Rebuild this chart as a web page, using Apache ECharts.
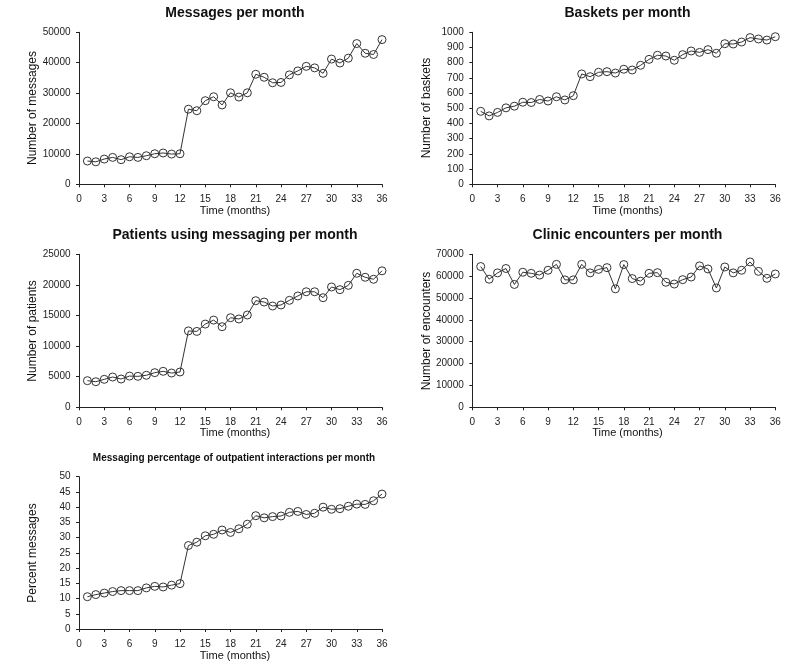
<!DOCTYPE html>
<html>
<head>
<meta charset="utf-8">
<script src="https://cdn.jsdelivr.net/npm/echarts@6/dist/echarts.min.js"></script>
<style>
html,body{margin:0;padding:0;background:#fff;}
#chart{width:800px;height:667px;}
</style>
</head>
<body>
<div id="chart"></div>
<script>
const months = [1,2,3,4,5,6,7,8,9,10,11,12,13,14,15,16,17,18,19,20,21,22,23,24,25,26,27,28,29,30,31,32,33,34,35,36];
const xTicks = [0,3,6,9,12,15,18,21,24,27,30,33,36];

const messages = [7650,7400,8300,8850,8100,9050,8850,9400,10050,10300,9950,10050,
  24700,24200,27500,28800,26100,30100,28700,30100,36200,35200,33400,33500,
  36000,37300,38800,38300,36500,41200,39900,41500,46300,43100,42700,47600];
const baskets = [480,450,473,503,514,540,538,558,548,576,555,583,
  726,708,737,741,732,757,752,783,822,849,844,816,
  853,877,868,886,862,925,923,936,965,956,949,971];
const patients = [4350,4180,4570,4950,4620,5100,5060,5230,5660,5880,5600,5770,
  12480,12400,13600,14250,13170,14640,14430,15080,17420,17200,16550,16720,
  17480,18190,18880,18880,17910,19660,19220,19930,21900,21240,20920,22300];
const encounters = [64400,58600,61500,63500,56200,61800,61300,60500,62700,65400,58300,58300,
  65400,61500,63100,63900,54200,65300,58900,57700,61300,61600,57200,56400,
  58400,59600,64700,63300,54600,64200,61500,62700,66500,62200,59000,61000];
const percent = [10.6,11.3,11.8,12.3,12.6,12.6,12.6,13.5,14.0,13.8,14.4,14.9,
  27.4,28.5,30.6,31.1,32.5,31.7,32.9,34.4,37.2,36.5,36.9,37.1,
  38.3,38.6,37.6,38.0,40.0,39.3,39.5,40.3,41.0,40.9,42.1,44.3];

const titles = ['Messages per month','Baskets per month','Patients using messaging per month','Clinic encounters per month','Messaging percentage of outpatient interactions per month'];
const yTitles = ['Number of messages','Number of baskets','Number of patients','Number of encounters','Percent messages'];
const xTitle = 'Time (months)';
const yMax = [50000,1000,25000,70000,50];
const yStep = [10000,100,5000,10000,5];
const seriesData = [messages, baskets, patients, encounters, percent];

const FONT = '"Liberation Sans", Arial, Helvetica, sans-serif';
const grids = [
  {left:79, top:32.3, width:303, height:152},
  {left:472.3, top:32.3, width:303, height:152},
  {left:79, top:254.3, width:303, height:153},
  {left:472.3, top:254.3, width:303, height:153},
  {left:79, top:476.7, width:303, height:152.3}
];
const titlePos = [[235,13.5],[627.5,13.5],[235,235],[627.5,235],[234,458.5]];
const yTitlePos = [[33,108],[427,108],[33,331],[427,331],[33,553]];
const xTitlePos = [[235,211],[627.5,211],[235,433],[627.5,433],[235,656]];

const xAxes = [], yAxes = [], series = [], graphics = [];
for (let i = 0; i < 5; i++) {
  xAxes.push({
    type:'value', gridIndex:i, min:0, max:36, interval:3, offset:6,
    splitLine:{show:false},
    axisLine:{show:true, lineStyle:{color:'#222', width:1}},
    axisTick:{show:true, length:3, lineStyle:{color:'#222'}},
    axisLabel:{fontSize:10, color:'#222', fontFamily:FONT, margin:4,
      formatter: v => String(v)}
  });
  yAxes.push({
    type:'value', gridIndex:i, min:0, max:yMax[i], interval:yStep[i], offset:2.5,
    splitLine:{show:false},
    axisLine:{show:true, lineStyle:{color:'#222', width:1}},
    axisTick:{show:true, length:3, lineStyle:{color:'#222'}},
    axisLabel:{fontSize:10, color:'#222', fontFamily:FONT, margin:6,
      formatter: v => String(v)}
  });
  series.push({
    type:'line', xAxisIndex:i, yAxisIndex:i,
    data: months.map((m, k) => [m, seriesData[i][k]]),
    symbol:'circle', symbolSize:8, showSymbol:true,
    lineStyle:{color:'#333', width:1},
    itemStyle:{color:'rgba(255,255,255,0)', borderColor:'#333', borderWidth:1},
    emphasis:{disabled:true}, animation:false, z:3
  });
  graphics.push({
    type:'text', x:titlePos[i][0], y:titlePos[i][1],
    style:{text:titles[i], fontFamily:FONT, fontWeight:'bold', fontSize: i===4 ? 10 : 14,
      fill:'#111', textAlign:'center', textVerticalAlign:'middle'}
  });
  graphics.push({
    type:'text', x:yTitlePos[i][0], y:yTitlePos[i][1], rotation:Math.PI/2,
    style:{text:yTitles[i], fontFamily:FONT, fontSize:12, fill:'#111',
      textAlign:'center', textVerticalAlign:'middle'}
  });
  graphics.push({
    type:'text', x:xTitlePos[i][0], y:xTitlePos[i][1],
    style:{text:xTitle, fontFamily:FONT, fontSize:11, fill:'#111',
      textAlign:'center', textVerticalAlign:'middle'}
  });
}

const chart = echarts.init(document.getElementById('chart'), null, {renderer:'canvas'});
chart.setOption({
  backgroundColor:'#fff',
  animation:false,
  grid: grids,
  xAxis: xAxes,
  yAxis: yAxes,
  series: series,
  graphic: graphics
});
</script>
</body>
</html>
